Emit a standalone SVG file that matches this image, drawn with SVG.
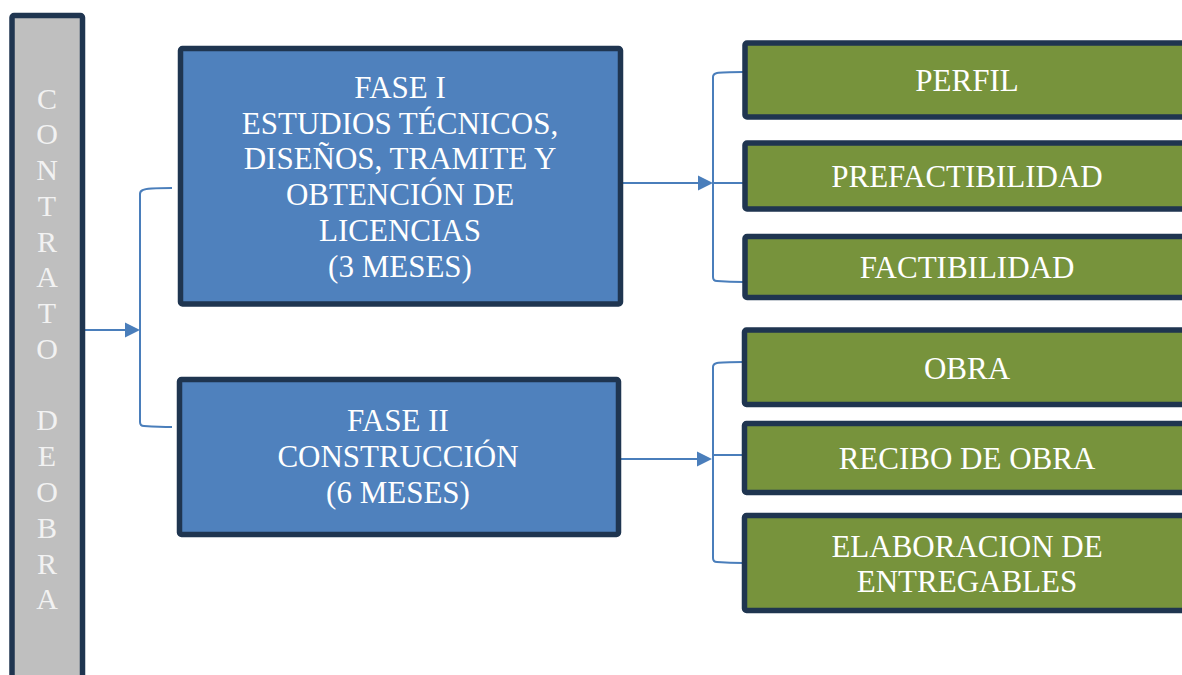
<svg xmlns="http://www.w3.org/2000/svg" width="1182" height="675" viewBox="0 0 1182 675">
<defs>
<style>
.box{stroke:#1F3550;stroke-width:5.5;}
.gray{fill:#BFBFBF;}
.blue{fill:#4F81BD;}
.green{fill:#77933C;}
.t{font-family:"Liberation Serif","Times New Roman",serif;font-size:31px;fill:#FFFFFF;text-anchor:middle;}
.v{font-family:"Liberation Serif","Times New Roman",serif;font-size:30px;fill:#F2F2F2;text-anchor:middle;}
.c{fill:none;stroke:#4A7EBB;stroke-width:2;}
</style>
</defs>
<rect width="1182" height="675" fill="#FFFFFF"/>
<g id="connectors">
<line class="c" x1="85" y1="330" x2="126" y2="330"/>
<path d="M125,322.5 L140,330 L125,337.5 Z" fill="#4A7EBB"/>
<path class="c" d="M172,188 Q146,188 143,190 Q140,191 140,194 L140,422 Q140,426 144,426 Q160,427 172,427"/>
<line class="c" x1="622" y1="183" x2="699" y2="183"/>
<path d="M698,175.5 L713,183 L698,190.5 Z" fill="#4A7EBB"/>
<path class="c" d="M743,72 Q722,72 717,73 Q713,74 713,77 L713,277 Q713,281 717,281 Q730,282 743,282"/>
<line class="c" x1="713" y1="183" x2="743" y2="183"/>
<line class="c" x1="620" y1="459" x2="698" y2="459"/>
<path d="M697,451.5 L712,459 L697,466.5 Z" fill="#4A7EBB"/>
<path class="c" d="M743,362 Q722,362 717,363 Q713,364 713,367 L713,558 Q713,562 717,562 Q730,563 743,563"/>
<line class="c" x1="713" y1="455" x2="743" y2="455"/>
</g>
<g id="contrato">
<rect class="box gray" x="12" y="15.5" width="70.5" height="680" rx="2"/>
<text class="v" x="47" y="109">C</text>
<text class="v" x="47" y="144">O</text>
<text class="v" x="47" y="180">N</text>
<text class="v" x="47" y="216">T</text>
<text class="v" x="47" y="252">R</text>
<text class="v" x="47" y="287">A</text>
<text class="v" x="47" y="323">T</text>
<text class="v" x="47" y="359">O</text>
<text class="v" x="47" y="430">D</text>
<text class="v" x="47" y="466">E</text>
<text class="v" x="47" y="502">O</text>
<text class="v" x="47" y="538">B</text>
<text class="v" x="47" y="574">R</text>
<text class="v" x="47" y="609">A</text>
</g>
<g id="fase1">
<rect class="box blue" x="180.5" y="48.5" width="440" height="255.5" rx="2"/>
<text class="t" x="400" y="98">FASE I</text>
<text class="t" x="400" y="134">ESTUDIOS TÉCNICOS,</text>
<text class="t" x="400" y="169">DISEÑOS, TRAMITE Y</text>
<text class="t" x="400" y="205">OBTENCIÓN DE</text>
<text class="t" x="400" y="241">LICENCIAS</text>
<text class="t" x="400" y="277">(3 MESES)</text>
</g>
<g id="fase2">
<rect class="box blue" x="179.5" y="379.5" width="439" height="155" rx="2"/>
<text class="t" x="398" y="431">FASE II</text>
<text class="t" x="398" y="467">CONSTRUCCIÓN</text>
<text class="t" x="398" y="503">(6 MESES)</text>
</g>
<g id="perfil">
<rect class="box green" x="745" y="43" width="460" height="74" rx="2"/>
<text class="t" x="967" y="91">PERFIL</text>
</g>
<g id="prefactibilidad">
<rect class="box green" x="745" y="143" width="460" height="66" rx="2"/>
<text class="t" x="967" y="187">PREFACTIBILIDAD</text>
</g>
<g id="factibilidad">
<rect class="box green" x="745" y="236.5" width="460" height="61" rx="2"/>
<text class="t" x="967" y="278">FACTIBILIDAD</text>
</g>
<g id="obra">
<rect class="box green" x="744.5" y="330" width="460" height="74.5" rx="2"/>
<text class="t" x="967" y="379">OBRA</text>
</g>
<g id="recibo">
<rect class="box green" x="744.5" y="423.5" width="460" height="69" rx="2"/>
<text class="t" x="967" y="469">RECIBO DE OBRA</text>
</g>
<g id="entregables">
<rect class="box green" x="744.5" y="515.5" width="460" height="95" rx="2"/>
<text class="t" x="967" y="557">ELABORACION DE</text>
<text class="t" x="967" y="592">ENTREGABLES</text>
</g>
</svg>
